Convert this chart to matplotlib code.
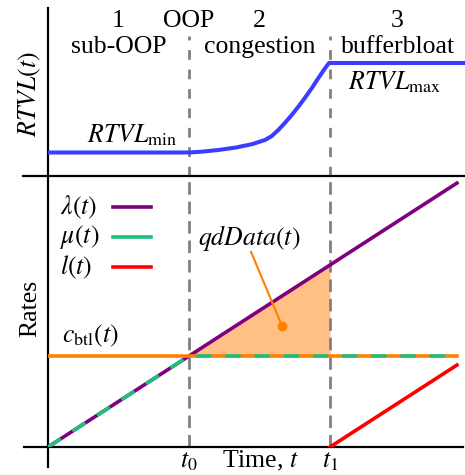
import numpy as np
import matplotlib
matplotlib.use("Agg")
import matplotlib.pyplot as plt
import matplotlib.transforms as mtransforms

plt.rcParams['font.family'] = ['Liberation Serif', 'DejaVu Serif']
plt.rcParams['mathtext.fontset'] = 'stix'
plt.rcParams['lines.scale_dashes'] = False

# ---------------- data ----------------
t0 = 1.0
t1 = 2.0
t_end = 2.9

# bottom panel (rates)
time = [0.0, 1.0, 2.0, 2.9]
lam = [0.0, 1.0, 2.0, 2.9]
mu = [0.0, 1.0, 1.0, 1.0]
c_btl = [1.0, 1.0, 1.0, 1.0]
loss_t = [2.0, 2.9]
loss = [0.0, 0.9]

# top panel (RTVL, normalised: 0 = min, 1 = max)
rt_t = [0.0, 1.0, 1.09, 1.208, 1.326, 1.445, 1.539, 1.587, 1.633, 1.681,
        1.728, 1.775, 1.823, 1.870, 1.913, 1.961, 1.993, 2.96]
rt_v = [0.0, 0.0, 0.009, 0.028, 0.054, 0.092, 0.140, 0.184, 0.251, 0.332,
        0.418, 0.511, 0.612, 0.717, 0.821, 0.933, 1.0, 1.0]

phase_nums = ['1', '2', '3']
phase_names = ['sub-OOP', 'congestion', 'bufferbloat']
phase_centers = [0.5, 1.5, 2.48]

qd_text_pos = (1.43, 2.165)
qd_point = (1.66, 1.33)

# ---------------- style ----------------
W, H = 465, 475
FS = 18.5
purple = '#800080'
green = '#1fc07f'
red = '#ff0000'
orange = '#ff8000'
fill_c = '#ffbf85'
blue = '#3a3cff'
gray = '#808080'

fig = plt.figure(figsize=(W / 100, H / 100), dpi=100)

def fx(px):
    return px / W

def fy(py):
    return 1 - py / H

xlim = (0, (465 - 48) / 141)
ax_top = fig.add_axes([fx(48), fy(176), fx(465) - fx(48), fy(8) - fy(176)])
ax_bot = fig.add_axes([fx(48), fy(447), fx(465) - fx(48), fy(176) - fy(447)])

for ax in (ax_top, ax_bot):
    ax.set_xlim(*xlim)
    for s in ax.spines.values():
        s.set_visible(False)
    ax.set_xticks([])
    ax.set_yticks([])
    ax.patch.set_alpha(0)

ax_top.set_ylim((152.5 - 176) / 89.5, (152.5 - 8) / 89.5)
ax_bot.set_ylim(0, (447 - 176) / 91)

# axis lines
ax_top.plot([0, 0], [0, 1], transform=ax_top.transAxes, color='black', lw=1.6, clip_on=False)
ax_top.plot([-0.06, 1], [0, 0], transform=ax_top.transAxes, color='black', lw=1.6, clip_on=False)
ax_bot.plot([0, 0], [-0.074, 1], transform=ax_bot.transAxes, color='black', lw=1.6, clip_on=False)
ax_bot.plot([-0.058, 0.995], [0, 0], transform=ax_bot.transAxes, color='black', lw=1.6, clip_on=False)

# dashed phase boundaries
for tv in (t0, t1):
    ax_top.axvline(tv, ymin=0, ymax=(176 - 36) / 168, color=gray, lw=2.0,
                   dashes=(7, 7), zorder=1)
    ax_bot.axvline(tv, ymin=0, ymax=1, color=gray, lw=2.0, dashes=(9, 5), zorder=1)

# top curve
ax_top.plot(rt_t, rt_v, color=blue, lw=2.9, solid_capstyle='butt',
            solid_joinstyle='round', zorder=3)

# phase labels
for x, n, name in zip(phase_centers, phase_nums, phase_names):
    ax_top.text(x, 1.4, n, ha='center', va='baseline', fontsize=FS)
    ax_top.text(x, 1.11, name, ha='center', va='baseline', fontsize=FS)
ax_top.text(t0, 1.4, 'OOP', ha='center', va='baseline', fontsize=FS)

ax_top.text(0.915, 0.118, r'$RTVL_{\mathrm{min}}$', ha='right', va='baseline', fontsize=FS)
ax_top.text(2.46, 0.70, r'$RTVL_{\mathrm{max}}$', ha='center', va='baseline', fontsize=FS)

fig.text(fx(30), fy(94), r'$RTVL(t)$', rotation=90, ha='center', va='center', fontsize=FS)
fig.text(fx(30), fy(308), 'Rates', rotation=90, ha='center', va='center', fontsize=FS)

# bottom panel
tt = np.array(time)
la = np.array(lam)
cc = np.array(c_btl)
mask = (tt >= t0) & (tt <= t1)
ax_bot.fill_between(tt[mask], cc[mask], la[mask], color=fill_c, lw=0, zorder=0.5)

ax_bot.plot(time, lam, color=purple, lw=2.6, zorder=3)
ax_bot.plot(time, c_btl, color=orange, lw=2.6, zorder=3)
ax_bot.plot(time, mu, color=green, lw=2.6, dashes=(11, 10), zorder=4)
ax_bot.plot(loss_t, loss, color=red, lw=2.6, zorder=3)

# legend (manual)
leg_items = [(r'$\lambda(t)$', dict(color=purple)),
             (r'$\mu(t)$', dict(color=green)),
             (r'$l(t)$', dict(color=red))]
for i, (lab, st) in enumerate(leg_items):
    yy = (447 - (207 + 30 * i)) / 271
    ax_bot.text(12 / 417, yy, lab, transform=ax_bot.transAxes, ha='left', va='center', fontsize=FS)
    ax_bot.plot([65 / 417, 103 / 417], [yy, yy], transform=ax_bot.transAxes, lw=2.6, **st)

ax_bot.text(0.1, 1.154, r'$c_{\mathrm{btl}}(t)$', ha='left', va='baseline', fontsize=FS)

# qdData annotation
ax_bot.plot([qd_text_pos[0] + 0.01, qd_point[0]], [qd_text_pos[1] - 0.02, qd_point[1]],
            color=orange, lw=1.5, zorder=5)
ax_bot.plot([qd_point[0]], [qd_point[1]], 'o', color=orange, ms=6, zorder=5)
ax_bot.text(qd_text_pos[0], qd_text_pos[1] + 0.05, r'$qdData(t)$', ha='center', va='baseline', fontsize=FS)

# x labels
trans = mtransforms.blended_transform_factory(ax_bot.transData, ax_bot.transAxes)
yb = (447 - 467) / 271
ax_bot.text(t0, yb, r'$t_0$', transform=trans, ha='center', va='baseline', fontsize=FS)
ax_bot.text(t1, yb, r'$t_1$', transform=trans, ha='center', va='baseline', fontsize=FS)
ax_bot.text(1.51, yb, r'Time, $t$', transform=trans, ha='center', va='baseline', fontsize=FS)

fig.savefig('out.png', dpi=100)
